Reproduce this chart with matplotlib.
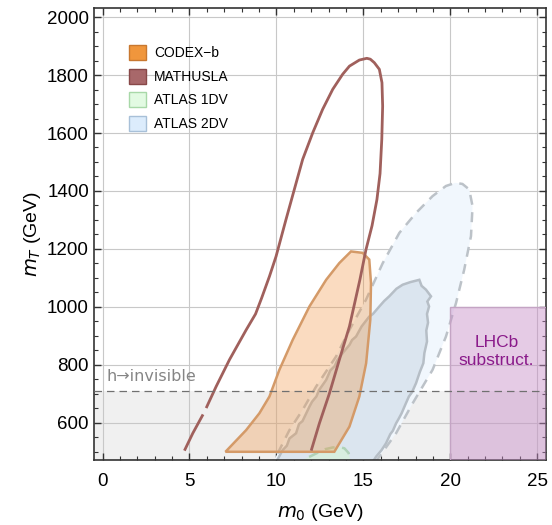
import numpy as np
import matplotlib.pyplot as plt
from matplotlib.patches import Polygon, Rectangle, Patch
from matplotlib.ticker import MultipleLocator

plt.rcParams['font.family'] = ['Liberation Sans', 'DejaVu Sans']

# contours in (m0 [GeV], mT [GeV])
codexb = [(7.07, 499), (8.26, 574), (9.02, 632), (9.6, 690), (10.17, 782), (10.94, 886),
          (11.9, 1001), (12.86, 1093), (13.62, 1151), (14.29, 1191), (14.96, 1186),
          (15.34, 1163), (15.44, 1082), (15.4, 955), (15.16, 805), (14.77, 690),
          (14.2, 586), (13.33, 499)]

mathusla_a = [(4.71, 503), (5.19, 563), (5.78, 628)]
mathusla_b = [(5.96, 650), (6.53, 724), (7.3, 817), (8.26, 920), (8.8, 975), (9.15, 1030),
              (9.6, 1105), (9.98, 1174), (10.55, 1301), (11.03, 1405), (11.51, 1509),
              (12.09, 1601), (12.66, 1682), (13.24, 1751), (13.81, 1803), (14.2, 1831),
              (14.77, 1852), (15.2, 1858), (15.4, 1855), (15.63, 1843), (15.92, 1820),
              (16.07, 1774), (16.11, 1693), (16.06, 1578), (15.96, 1460), (15.78, 1370),
              (15.5, 1280), (15.15, 1197), (14.8, 1093), (14.2, 932), (13.62, 817),
              (13.05, 701), (12.47, 597), (12.0, 503)]

atlas_outer = [(9.6, 440), (10.17, 505), (10.75, 574), (11.51, 644), (12.28, 724),
               (13.43, 828), (14.2, 920), (15.15, 1024), (16.11, 1150), (17.07, 1255),
               (18.03, 1324), (18.98, 1382), (19.75, 1417), (20.3, 1428), (20.7, 1424),
               (21.09, 1405), (21.28, 1347), (21.19, 1244), (20.8, 1128), (20.33, 1013),
               (19.75, 897), (18.98, 782), (17.84, 667), (16.88, 563), (15.92, 482),
               (15.4, 440)]

atlas_inner = [(9.95, 460), (10.36, 505), (10.6, 520), (10.75, 545), (11.13, 563),
               (11.3, 595), (11.5, 605), (11.9, 655), (12.05, 672), (12.3, 690),
               (12.45, 712), (12.86, 747), (13.1, 780), (13.35, 795), (13.5, 815),
               (13.81, 840), (14.2, 868), (14.35, 885), (14.58, 897), (14.9, 932),
               (15.34, 966), (15.55, 975), (15.92, 1001), (16.2, 1020), (16.49, 1036),
               (16.9, 1062), (17.26, 1076), (17.7, 1085), (18.22, 1093), (18.35, 1072),
               (18.6, 1059), (18.89, 1036), (18.68, 1018), (18.78, 1001), (18.66, 975),
               (18.72, 945), (18.62, 918), (18.66, 880), (18.51, 840), (18.45, 805),
               (18.25, 775), (18.03, 736), (17.8, 705), (17.62, 690), (17.45, 667),
               (17.2, 632), (17.05, 615), (16.88, 597), (16.7, 572), (16.55, 560),
               (16.3, 528), (16.05, 505), (15.73, 482), (15.5, 460)]

atlas_1dv = [(11.2, 440), (11.5, 470), (12.28, 493), (12.8, 508), (13.24, 514),
             (13.65, 515), (13.91, 511), (14.15, 495), (14.25, 470), (14.3, 440)]

h_inv = 710          # h -> invisible bound
lhcb_m0 = 20         # LHCb substructure bounds
lhcb_mT = 1000

fig = plt.figure(figsize=(5.52, 5.25), dpi=100)
ax = fig.add_axes([0.170, 0.1229, 0.819, 0.862])
ax.set_xlim(-0.5, 25.5)
ax.set_ylim(469, 2032)

ax.axhspan(0, h_inv, color='#f0f0f0', zorder=0, lw=0)
ax.axhline(h_inv, color='#707070', lw=0.9, ls=(0, (6, 4)), zorder=6)
ax.grid(True, color='#c8c8c8', lw=0.8, zorder=0.5)
ax.set_axisbelow(True)

ax.add_patch(Polygon(atlas_outer, closed=True, facecolor='#f1f7fd', edgecolor='#bcc2c8',
                     lw=1.8, ls=(0, (4, 3)), zorder=2))
ax.add_patch(Polygon(atlas_inner, closed=True, facecolor='#dbe5ef', edgecolor='#b6bec6',
                     lw=1.8, zorder=2.2))
ax.add_patch(Polygon(atlas_1dv, closed=True, facecolor='#d8eedf', edgecolor='#b0d2b8',
                     lw=1.8, ls=(0, (4, 3)), zorder=2.4))
ax.add_patch(Polygon(codexb, closed=True, facecolor=(0.94, 0.58, 0.25, 0.33),
                     edgecolor='#d49a68', lw=1.8, zorder=3))

for seg in (mathusla_a, mathusla_b):
    seg = np.array(seg)
    ax.plot(seg[:, 0], seg[:, 1], color='#a0605c', lw=2.0, zorder=4, solid_capstyle='butt')

ax.add_patch(Rectangle((lhcb_m0, 0), 30, lhcb_mT, facecolor=(0.78, 0.55, 0.78, 0.45),
                       edgecolor='#c4a4c4', lw=1.0, zorder=5))
ax.text(22.65, 845, 'LHCb\nsubstruct.', color='#8a1a8a', fontsize=12.5, ha='center',
        va='center', linespacing=1.3, zorder=7)
ax.text(0.2, 758, 'h\u2192invisible', color='#858585', fontsize=11.5, ha='left',
        va='center', zorder=7, family=['DejaVu Sans'])

ax.xaxis.set_major_locator(MultipleLocator(5))
ax.xaxis.set_minor_locator(MultipleLocator(1))
ax.yaxis.set_major_locator(MultipleLocator(200))
ax.yaxis.set_minor_locator(MultipleLocator(50))
ax.tick_params(which='both', direction='in', top=True, right=True, colors='#333333',
               labelcolor='black', labelsize=13.5)
ax.tick_params(which='major', length=5, width=1)
ax.tick_params(which='minor', length=3, width=0.8)
ax.tick_params(axis='x', which='major', pad=9)
for s in ax.spines.values():
    s.set_color('#333333')
    s.set_linewidth(1.2)

ax.set_xlabel('$m_0$ (GeV)', fontsize=14, labelpad=9)
ax.set_ylabel('$m_T$ (GeV)', fontsize=14, labelpad=3)

handles = [Patch(facecolor='#f0963c', edgecolor='#c87830', label='CODEX\u2212b'),
           Patch(facecolor='#a8686a', edgecolor='#884848', label='MATHUSLA'),
           Patch(facecolor='#e2fae2', edgecolor='#a8d8a8', label='ATLAS 1DV'),
           Patch(facecolor='#dcecfc', edgecolor='#a8c0d8', label='ATLAS 2DV')]
leg = ax.legend(handles=handles, loc='upper left', bbox_to_anchor=(0.065, 0.93),
                frameon=False, fontsize=10, handlelength=1.25, handleheight=1.3,
                handletextpad=0.55, labelspacing=0.6, borderaxespad=0)
leg.set_zorder(8)

fig.savefig('out.png', dpi=100)
